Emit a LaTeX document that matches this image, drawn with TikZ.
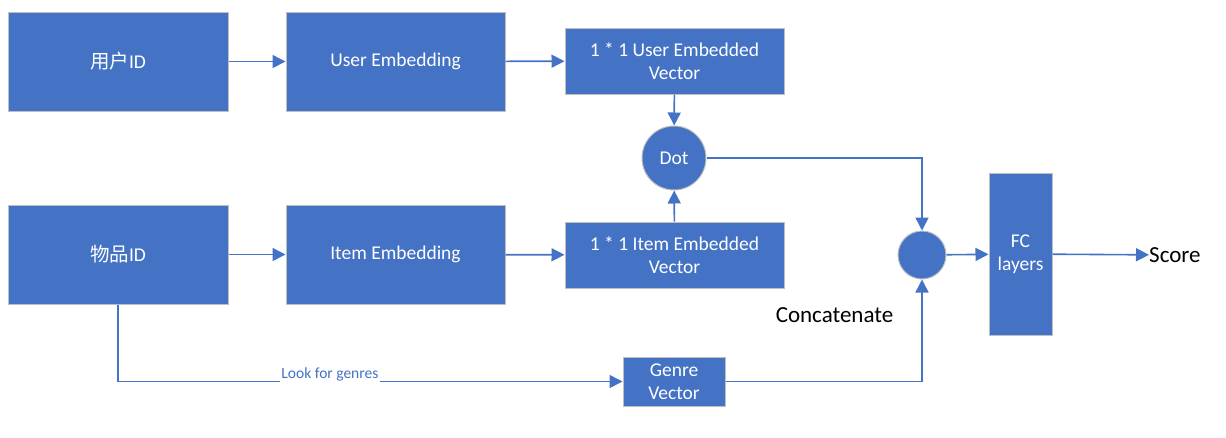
\documentclass[tikz,border=0pt]{standalone}
\usepackage{fontspec}
\setmainfont{Carlito}
\newfontfamily\cjk{Noto Sans CJK SC}
\usetikzlibrary{arrows.meta}
\definecolor{blu}{HTML}{4472C4}
\definecolor{edge}{HTML}{BFBFBF}
\tikzset{
  box/.style={draw=edge, line width=1pt, fill=blu, text=white, font=\fontsize{19.5}{23}\selectfont, align=center, inner sep=0pt},
  circ/.style={circle, draw=edge, line width=1pt, fill=blu, text=white, font=\fontsize{19.5}{23}\selectfont, inner sep=0pt},
  arr/.style={draw=blu, line width=1.6pt, -{Triangle[length=13pt,width=13pt]}},
  ln/.style={draw=blu, line width=1.6pt}
}
\begin{document}
\begin{tikzpicture}[x=1pt,y=-1pt]
\useasboundingbox (0,0) rectangle (1226,437);
\node[box, minimum width=220pt, minimum height=99pt] (uid) at (118,61.5) {{\cjk 用户}ID};
\node[box, minimum width=219pt, minimum height=99pt] (uemb) at (395.5,61.5) {User Embedding};
\node[box, minimum width=219pt, minimum height=66pt] (uvec) at (674.5,61) {1 * 1 User Embedded\\Vector};
\node[circ, minimum size=64pt] (dot) at (674,158) {Dot};
\node[box, minimum width=220pt, minimum height=99pt] (iid) at (118,254.5) {{\cjk 物品}ID};
\node[box, minimum width=219pt, minimum height=99pt] (iemb) at (395.5,254.5) {Item Embedding};
\node[box, minimum width=219pt, minimum height=66pt] (ivec) at (674.5,255) {1 * 1 Item Embedded\\Vector};
\node[circ, minimum size=48pt] (cat) at (922,255) {};
\node[box, minimum width=63pt, minimum height=162pt] (fc) at (1020.5,254) {FC\\layers};
\node[box, minimum width=102pt, minimum height=49pt] (gen) at (674,381.5) {Genre\\Vector};
\node[anchor=west, font=\fontsize{23}{26}\selectfont, inner sep=0pt] (score) at (1149,255) {Score};
\node[font=\fontsize{23}{26}\selectfont, inner sep=0pt] (concat) at (834.5,315) {Concatenate};
\coordinate (c1) at (922,158);
\coordinate (c2) at (118,381.5);
\coordinate (c3) at (922,381.5);
\draw[arr] (uid) -- (uemb);
\draw[arr] (uemb) -- (uvec);
\draw[arr] (iid) -- (iemb);
\draw[arr] (iemb) -- (ivec);
\draw[arr] (uvec) -- (dot);
\draw[arr] (ivec) -- (dot);
\draw[arr] (dot) -- (c1) -- (cat);
\draw[arr] (gen) -- (c3) -- (cat);
\draw[arr] (cat) -- (fc);
\draw[arr] (fc) -- (score);
\draw[arr] (iid) -- (c2) -- (gen) node[pos=0.42, fill=white, text=blu, font=\fontsize{15.5}{18}\selectfont, inner sep=1.5pt, yshift=7pt] (lfg) {Look for genres};
\end{tikzpicture}
\end{document}
